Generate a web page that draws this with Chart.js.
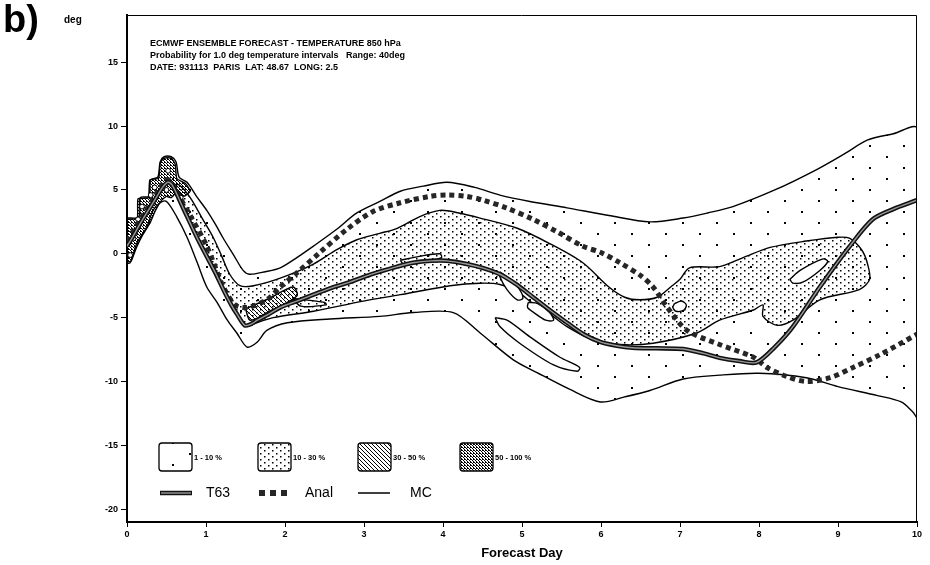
<!DOCTYPE html>
<html>
<head>
<meta charset="utf-8">
<script src="https://cdn.jsdelivr.net/npm/chart.js@4.4.1/dist/chart.umd.min.js"></script>
<style>
  body { margin: 0; background: #fff; }
  canvas { display: block; }
</style>
</head>
<body>
<canvas id="chart" width="930" height="565"></canvas>
<script>
// axis ticks
var dayTicks = [0, 1, 2, 3, 4, 5, 6, 7, 8, 9, 10];
var degTicks = [-20, -15, -10, -5, 0, 5, 10, 15];

// deterministic runs [day, deg]
var t63 = [[0,0.6],[0.08,1.4],[0.17,2.4],[0.27,3.4],[0.36,4.3],[0.45,5.2],[0.52,5.6],[0.58,5.3],[0.68,4.0],[0.8,2.4],[0.9,1.1],
  [1.01,-0.2],[1.12,-1.5],[1.22,-2.8],[1.32,-4.0],[1.4,-4.8],[1.49,-5.6],[1.57,-5.5],[1.65,-5.2],[1.8,-4.7],[1.94,-4.2],
  [2.15,-3.7],[2.36,-3.2],[2.57,-2.7],[2.78,-2.3],[3.0,-1.8],[3.2,-1.4],[3.42,-1.0],[3.62,-0.7],[3.85,-0.55],[4.05,-0.55],
  [4.3,-0.8],[4.5,-1.1],[4.72,-1.6],[4.93,-2.4],[5.14,-3.4],[5.35,-4.4],[5.57,-5.4],[5.78,-6.3],[5.99,-6.9],[6.2,-7.2],
  [6.4,-7.35],[6.7,-7.4],[7.04,-7.45],[7.3,-7.8],[7.5,-8.15],[7.75,-8.4],[7.97,-8.5],[8.2,-7.3],[8.43,-5.7],[8.77,-2.6],
  [9.15,0.6],[9.44,2.7],[9.7,3.5],[10,4.2]];
var anal = [[0,1.0],[0.1,2.0],[0.2,3.0],[0.3,4.0],[0.4,5.0],[0.5,5.8],[0.56,5.6],[0.65,4.6],[0.8,3.0],[1.01,0.6],[1.22,-2.6],
  [1.37,-4.0],[1.52,-4.2],[1.77,-3.6],[1.94,-2.6],[2.15,-1.5],[2.44,0.1],[2.78,1.9],[3.11,3.3],[3.46,4.0],[3.84,4.5],
  [4.05,4.6],[4.3,4.5],[4.51,4.2],[4.8,3.6],[5.14,2.7],[5.45,1.7],[5.77,0.6],[6.0,0.1],[6.24,-0.7],[6.5,-1.7],[6.66,-2.6],
  [6.84,-4.2],[7.09,-6.0],[7.5,-7.1],[7.93,-8.1],[8.1,-8.9],[8.35,-9.6],[8.6,-10.0],[8.9,-9.7],[9.19,-8.9],[9.53,-7.9],[10,-6.3]];

// 1 - 10 % envelope
var envTop = [[0,2.8],[0.15,2.9],[0.17,4.4],[0.28,4.5],[0.3,5.8],[0.39,6.0],[0.42,7.2],[0.47,7.6],[0.56,7.6],[0.62,7.2],
  [0.66,6.0],[0.76,5.6],[0.88,4.5],[1.01,3.4],[1.12,2.3],[1.22,1.2],[1.35,-0.1],[1.47,-1.3],[1.55,-1.6],[1.75,-1.4],
  [1.94,-1.1],[2.15,-0.3],[2.36,0.6],[2.65,1.9],[2.91,3.2],[3.2,4.1],[3.46,4.9],[3.75,5.3],[4.05,5.6],[4.4,5.2],[4.72,4.6],
  [5.1,4.1],[5.57,3.6],[6.1,3.0],[6.62,2.5],[7.04,2.8],[7.35,3.2],[7.67,3.7],[8.2,5.0],[8.73,6.6],[9.1,7.9],[9.37,8.9],
  [9.7,9.4],[10,9.8]];
var envBottom = [[0,-0.7],[0.04,-0.7],[0.13,0.9],[0.25,2.1],[0.33,3.4],[0.42,4.0],[0.5,4.1],[0.63,2.9],[0.76,1.3],[0.89,-0.7],
  [1.01,-2.6],[1.14,-3.8],[1.27,-5.2],[1.39,-6.2],[1.52,-7.3],[1.65,-6.9],[1.77,-6.0],[2.03,-5.4],[2.57,-5.1],[3.2,-4.9],
  [3.62,-4.6],[4.13,-4.6],[4.47,-6.2],[4.89,-8.3],[5.19,-9.3],[5.6,-10.6],[5.99,-11.6],[6.3,-11.2],[6.62,-10.7],[7.04,-9.8],
  [7.5,-9.5],[8.0,-9.35],[8.6,-9.7],[9.0,-10.4],[9.5,-11.1],[9.8,-11.6],[9.95,-12.4],[10,-12.8]];

// 10 - 30 % band, closed outline
var band10 = [[0.56,5.4],[0.66,5.4],[0.8,4.4],[0.95,2.8],[1.09,1.3],[1.2,-0.2],[1.3,-1.6],[1.43,-2.5],[1.6,-2.5],[1.94,-1.9],
  [2.36,-0.8],[2.65,0.3],[2.91,1.1],[3.2,1.6],[3.42,2.0],[3.7,2.9],[3.96,3.4],[4.2,3.2],[4.47,2.8],[4.94,2.0],[5.35,0.8],
  [5.77,-0.7],[6.1,-2.6],[6.3,-3.4],[6.49,-3.6],[6.71,-3.4],[6.9,-2.5],[7.0,-2.0],[7.12,-1.1],[7.5,-1.0],[7.8,-0.3],
  [8.14,0.5],[8.6,1.0],[9.0,1.3],[9.15,1.2],[9.3,0.3],[9.37,-0.7],[9.4,-2.0],[9.27,-2.8],[8.77,-3.6],[8.43,-5.2],[8.23,-5.6],
  [8.05,-4.9],[8.05,-4.0],[7.93,-4.4],[7.5,-5.2],[7.21,-6.2],[6.66,-7.0],[6.24,-7.1],[5.85,-6.6],[5.57,-5.7],[5.35,-4.7],
  [5.14,-3.9],[4.95,-3.0],[4.72,-2.4],[4.47,-2.3],[4.09,-2.5],[3.46,-3.2],[2.99,-3.7],[2.36,-4.5],[1.85,-5.0],[1.6,-5.5],
  [1.52,-5.7],[1.45,-5.2],[1.35,-4.2],[1.2,-2.7],[1.05,-0.8],[0.9,1.2],[0.75,3.2],[0.62,4.6]];

// 30 - 50 % patch after the first minimum
var band30 = [[1.5,-4.3],[1.8,-3.5],[2.1,-2.6],[2.15,-3.3],[1.8,-4.5],[1.56,-5.2]];

// 50 - 100 % cluster during the first day
var band50 = [[0,2.7],[0.13,2.8],[0.14,4.3],[0.27,4.4],[0.29,5.8],[0.4,5.9],[0.42,7.1],[0.47,7.5],[0.56,7.5],[0.61,7.0],
  [0.63,5.9],[0.74,5.5],[0.8,4.9],[0.72,4.5],[0.64,4.9],[0.56,4.4],[0.5,4.5],[0.44,4.2],[0.36,3.4],[0.29,2.4],[0.2,1.5],
  [0.12,0.5],[0.05,-0.6],[0,-0.6]];
var spots = [[0.52,6.5],[0.52,5.7],[0.5,5.0],[0.3,4.6],[0.19,3.7],[0.14,2.7],[0.08,1.2],[0.04,-0.1],[0.68,4.4],[0.35,5.2]];

// holes inside the bands
var holeB = [[4.72,-1.4],[4.85,-2.0],[4.97,-2.8],[5.01,-3.5],[4.94,-3.6],[4.81,-2.8],[4.72,-1.8]];
var holeC = [[5.08,-3.8],[5.2,-3.9],[5.35,-4.6],[5.4,-5.2],[5.3,-5.2],[5.15,-4.6],[5.07,-4.2]];
var holeD = [[4.66,-5.0],[4.81,-5.2],[5.1,-6.5],[5.48,-8.1],[5.73,-8.9],[5.7,-9.2],[5.4,-8.7],[4.97,-7.0],[4.72,-5.7]];
var holeE = [[8.39,-2.0],[8.52,-1.3],[8.81,-0.4],[8.87,-0.6],[8.77,-1.3],[8.56,-2.2],[8.43,-2.3]];
var holeF = [[6.93,-3.9],[7.02,-3.7],[7.08,-4.0],[7.05,-4.4],[6.95,-4.5],[6.91,-4.2]];
// open contour loops
var loopA = [[3.46,-0.5],[3.7,-0.2],[3.96,0.0],[3.98,-0.3],[3.7,-0.7],[3.5,-0.8]];
var loopG = [[2.1,-3.5],[2.5,-3.8],[2.52,-4.0],[2.2,-4.1]];

var sans = '"Liberation Sans", Arial, sans-serif';

function pts(arr) {
  return arr.map(function (p) { return {x: p[0], y: p[1]}; });
}
function closed(arr) {
  var a = pts(arr);
  a.push(a[0]);
  return a;
}

function pattern(w, h, dots, r) {
  var c = document.createElement('canvas');
  c.width = w; c.height = h;
  var g = c.getContext('2d');
  g.fillStyle = '#000';
  dots.forEach(function (d) { g.fillRect(d[0], d[1], r, r); });
  return g.createPattern(c, 'repeat');
}

var fill1 = pattern(34, 22, [[2, 2], [19, 13]], 2);
var fill10 = pattern(8, 6, [[0, 0], [4, 3]], 1.5);
var fill30 = pattern(4, 4, [[0, 0], [1, 1], [2, 2], [3, 3]], 1);
var fill50 = pattern(3, 3, [[0, 0], [1, 1], [2, 2], [2, 0]], 1);

function area(data, bg, order, tension) {
  return {
    data: data,
    fill: bg ? 'shape' : false,
    backgroundColor: bg || 'transparent',
    borderColor: '#000',
    borderWidth: 1.4,
    pointRadius: 0,
    tension: tension === undefined ? 0.3 : tension,
    order: order
  };
}

var envelope = pts(envTop).concat(pts(envBottom.slice().reverse()));
envelope.push(envelope[0]);

var datasets = [
  area(envelope, fill1, 20),
  area(closed(band10), fill10, 19),
  area(closed(band30), fill30, 18),
  area(closed(band50), fill50, 17, 0.15),
  area(closed(holeB), '#fff', 16),
  area(closed(holeC), '#fff', 16),
  area(closed(holeD), '#fff', 16),
  area(closed(holeE), '#fff', 16),
  area(closed(holeF), '#fff', 16),
  area(closed(loopA), null, 15),
  area(closed(loopG), null, 15),
  {
    data: pts(spots), showLine: false, pointRadius: 2.4,
    pointBackgroundColor: '#fff', pointBorderColor: '#000', pointBorderWidth: 1, order: 14
  },
  {
    data: pts(anal), borderColor: '#262626', borderWidth: 5, borderDash: [5, 4],
    pointRadius: 0, tension: 0.3, fill: false, order: 5
  },
  {
    data: pts(t63), borderColor: '#111', borderWidth: 4.5,
    pointRadius: 0, tension: 0.3, fill: false, order: 4
  },
  {
    data: pts(t63), borderColor: '#9a9a9a', borderWidth: 1.4,
    pointRadius: 0, tension: 0.3, fill: false, order: 3
  }
];

function swatch(ctx, x, y, w, h, bg) {
  ctx.beginPath();
  ctx.roundRect(x, y, w, h, 3);
  ctx.fillStyle = '#fff';
  ctx.fill();
  ctx.fillStyle = bg;
  ctx.fill();
  ctx.lineWidth = 1.3;
  ctx.strokeStyle = '#000';
  ctx.stroke();
}

var decor = {
  id: 'decor',
  afterDraw: function (chart) {
    var ctx = chart.ctx, a = chart.chartArea;
    ctx.save();
    // frame top and right
    ctx.strokeStyle = '#000';
    ctx.lineWidth = 1;
    ctx.beginPath();
    ctx.moveTo(a.left, a.top + 0.5);
    ctx.lineTo(a.right - 0.5, a.top + 0.5);
    ctx.lineTo(a.right - 0.5, a.bottom);
    ctx.stroke();

    ctx.fillStyle = '#000';
    ctx.textBaseline = 'middle';
    ctx.font = 'bold 38px ' + sans;
    ctx.fillText('b)', 3, 22);
    ctx.font = 'bold 10px ' + sans;
    ctx.fillText('deg', 64, 20);

    // heading inside the plot
    ctx.font = 'bold 9px ' + sans;
    ctx.fillText('ECMWF ENSEMBLE FORECAST - TEMPERATURE 850 hPa', 150, 44);
    ctx.fillText('Probability for 1.0 deg temperature intervals   Range: 40deg', 150, 56);
    ctx.fillText('DATE: 931113  PARIS  LAT: 48.67  LONG: 2.5', 150, 68);

    // probability key
    var keys = [['1 - 10 %', fill1, 159], ['10 - 30 %', fill10, 258], ['30 - 50 %', fill30, 358], ['50 - 100 %', fill50, 460]];
    keys.forEach(function (k) {
      swatch(ctx, k[2], 443, 33, 28, k[1]);
      ctx.fillStyle = '#000';
      ctx.font = 'bold 7.5px ' + sans;
      ctx.fillText(k[0], k[2] + 35, 458);
    });

    // line key
    var ly = 493;
    ctx.lineCap = 'butt';
    ctx.strokeStyle = '#111';
    ctx.lineWidth = 4.5;
    ctx.beginPath(); ctx.moveTo(160, ly); ctx.lineTo(192, ly); ctx.stroke();
    ctx.strokeStyle = '#9a9a9a';
    ctx.lineWidth = 1.4;
    ctx.beginPath(); ctx.moveTo(161, ly); ctx.lineTo(191, ly); ctx.stroke();
    ctx.fillStyle = '#262626';
    [259, 270, 281].forEach(function (x) { ctx.fillRect(x, ly - 3, 6, 6); });
    ctx.strokeStyle = '#000';
    ctx.lineWidth = 1.5;
    ctx.beginPath(); ctx.moveTo(358, ly); ctx.lineTo(390, ly); ctx.stroke();
    ctx.fillStyle = '#000';
    ctx.font = '14px ' + sans;
    ctx.fillText('T63', 206, ly);
    ctx.fillText('Anal', 305, ly);
    ctx.fillText('MC', 410, ly);
    ctx.restore();
  }
};

var tickFont = {family: sans, size: 9, weight: 'bold'};

new Chart(document.getElementById('chart'), {
  type: 'line',
  data: {datasets: datasets},
  options: {
    responsive: false,
    animation: false,
    devicePixelRatio: 1,
    layout: {padding: {top: 15, right: 13, left: 0, bottom: 0}},
    plugins: {legend: {display: false}, tooltip: {enabled: false}},
    scales: {
      x: {
        type: 'linear', min: 0, max: 10,
        afterBuildTicks: function (s) { s.ticks = dayTicks.map(function (v) { return {value: v}; }); },
        afterFit: function (s) { s.height = 43; },
        grid: {drawOnChartArea: false, drawTicks: true, tickLength: 5, color: '#000'},
        border: {color: '#000', width: 2},
        ticks: {color: '#000', font: tickFont, padding: 2, maxRotation: 0},
        title: {display: true, text: 'Forecast Day', color: '#000',
          font: {family: sans, size: 13, weight: 'bold'}, padding: {top: 0, bottom: 4}}
      },
      y: {
        type: 'linear', min: -21, max: 18.7,
        afterBuildTicks: function (s) { s.ticks = degTicks.map(function (v) { return {value: v}; }); },
        afterFit: function (s) { s.width = 127; },
        grid: {drawOnChartArea: false, drawTicks: true, tickLength: 6, color: '#000'},
        border: {color: '#000', width: 2},
        ticks: {color: '#000', font: tickFont, padding: 3}
      }
    }
  },
  plugins: [decor]
});
</script>
</body>
</html>
